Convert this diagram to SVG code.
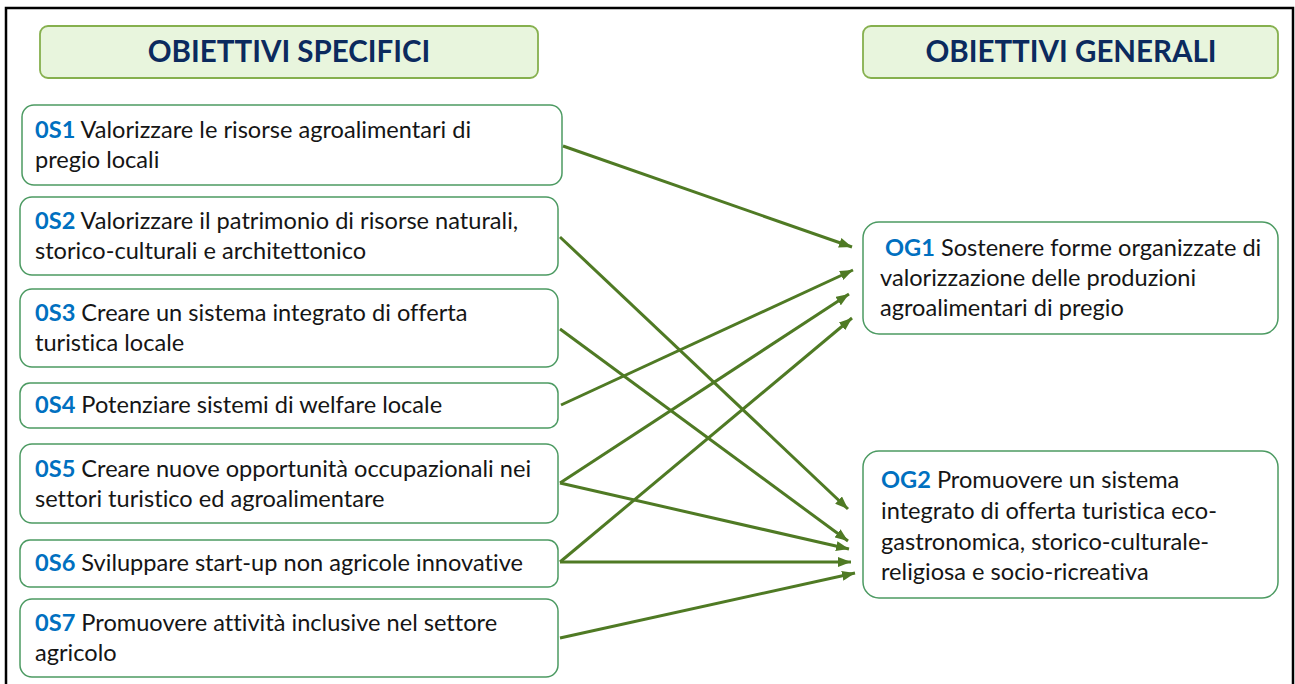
<svg xmlns="http://www.w3.org/2000/svg" width="1295" height="684" viewBox="0 0 1295 684">
  <defs>
    <marker id="arrow" markerUnits="userSpaceOnUse" markerWidth="14" markerHeight="10" refX="13" refY="5" orient="auto">
      <path d="M0,0 L13,5 L0,10 Z" fill="#4f7a24"/>
    </marker>
    <style>
      .frame { fill: #ffffff; stroke: #000000; stroke-width: 2.5; }
      .head { fill: #e8f5dd; stroke: #86b04e; stroke-width: 1.8; }
      .head-text { font-family: Lato, "Open Sans", sans-serif; font-weight: bold; font-size: 29.5px; fill: #0b2a5e; text-anchor: middle; }
      .box { fill: #ffffff; stroke: #4c9a62; stroke-width: 1.5; }
      .txt { font-family: Lato, "Open Sans", sans-serif; font-size: 23.6px; fill: #151515; font-variant-ligatures: no-common-ligatures; }
      .code { font-weight: bold; fill: #0070c0; }
      .link { fill: none; stroke: #4f7a24; stroke-width: 3; marker-end: url(#arrow); }
    </style>
  </defs>

  <rect class="frame" x="6" y="8" width="1287" height="690"/>

  <!-- column headers -->
  <g id="header-specifici">
    <rect class="head" x="40" y="26" width="498" height="52" rx="8"/>
    <text class="head-text" x="289" y="62">OBIETTIVI SPECIFICI</text>
  </g>
  <g id="header-generali">
    <rect class="head" x="863" y="26" width="415" height="52" rx="8"/>
    <text class="head-text" x="1071" y="62">OBIETTIVI GENERALI</text>
  </g>

  <!-- specific objectives -->
  <g id="os1">
    <rect class="box" x="22" y="105" width="540" height="80" rx="12"/>
    <text class="txt" x="35" y="138"><tspan class="code">0S1</tspan> Valorizzare le risorse agroalimentari di</text>
    <text class="txt" x="35" y="168">pregio locali</text>
  </g>
  <g id="os2">
    <rect class="box" x="20" y="197" width="538" height="78" rx="12"/>
    <text class="txt" x="35" y="229"><tspan class="code">0S2</tspan> Valorizzare il patrimonio di risorse naturali,</text>
    <text class="txt" x="35" y="259">storico-culturali e architettonico</text>
  </g>
  <g id="os3">
    <rect class="box" x="20" y="289" width="538" height="78" rx="12"/>
    <text class="txt" x="35" y="321"><tspan class="code">0S3</tspan> Creare un sistema integrato di offerta</text>
    <text class="txt" x="35" y="351">turistica locale</text>
  </g>
  <g id="os4">
    <rect class="box" x="20" y="383" width="538" height="45" rx="10"/>
    <text class="txt" x="35" y="413"><tspan class="code">0S4</tspan> Potenziare sistemi di welfare locale</text>
  </g>
  <g id="os5">
    <rect class="box" x="20" y="444" width="538" height="79" rx="12"/>
    <text class="txt" x="35" y="477"><tspan class="code">0S5</tspan> Creare nuove opportunità occupazionali nei</text>
    <text class="txt" x="35" y="507">settori turistico ed agroalimentare</text>
  </g>
  <g id="os6">
    <rect class="box" x="20" y="540" width="538" height="47" rx="10"/>
    <text class="txt" x="35" y="571"><tspan class="code">0S6</tspan> Sviluppare start-up non agricole innovative</text>
  </g>
  <g id="os7">
    <rect class="box" x="20" y="599" width="538" height="78" rx="12"/>
    <text class="txt" x="35" y="631"><tspan class="code">0S7</tspan> Promuovere attività inclusive nel settore</text>
    <text class="txt" x="35" y="661">agricolo</text>
  </g>

  <!-- general objectives -->
  <g id="og1">
    <rect class="box" x="863" y="222" width="415" height="112" rx="16"/>
    <text class="txt" x="885" y="256"><tspan class="code">OG1</tspan> Sostenere forme organizzate di</text>
    <text class="txt" x="880" y="286">valorizzazione delle produzioni</text>
    <text class="txt" x="880" y="316">agroalimentari di pregio</text>
  </g>
  <g id="og2">
    <rect class="box" x="863" y="451" width="415" height="147" rx="16"/>
    <text class="txt" x="881" y="488"><tspan class="code">OG2</tspan> Promuovere un sistema</text>
    <text class="txt" x="881" y="519">integrato di offerta turistica eco-</text>
    <text class="txt" x="881" y="550">gastronomica, storico-culturale-</text>
    <text class="txt" x="881" y="580">religiosa e socio-ricreativa</text>
  </g>

  <!-- links from specific to general objectives -->
  <g id="connectors">
    <line class="link" x1="563" y1="146" x2="852" y2="247"/>
    <line class="link" x1="560" y1="237" x2="848" y2="509"/>
    <line class="link" x1="560" y1="329" x2="848" y2="541"/>
    <line class="link" x1="561" y1="405" x2="853" y2="270"/>
    <line class="link" x1="560" y1="483" x2="849" y2="294"/>
    <line class="link" x1="560" y1="483" x2="849" y2="549"/>
    <line class="link" x1="560" y1="562" x2="852" y2="318"/>
    <line class="link" x1="560" y1="562" x2="851" y2="562"/>
    <line class="link" x1="560" y1="638" x2="855" y2="573"/>
  </g>
</svg>
